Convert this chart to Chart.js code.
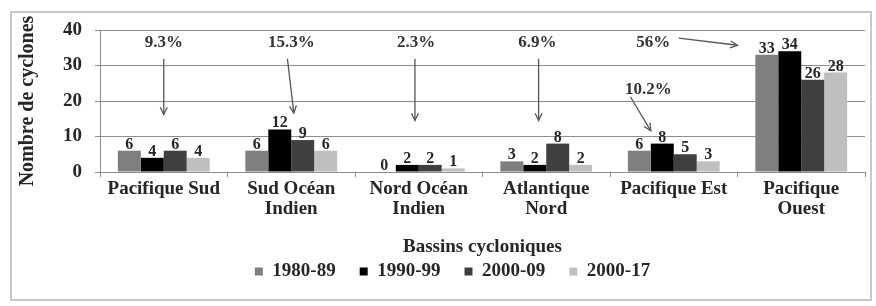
<!DOCTYPE html>
<html>
<head>
<meta charset="utf-8">
<script src="https://cdn.jsdelivr.net/npm/chart.js@4.4.1/dist/chart.umd.min.js"></script>
<style>
  html, body { margin: 0; padding: 0; background: #ffffff; }
  #wrap { position: relative; width: 876px; height: 306px; }
</style>
</head>
<body>
<div id="wrap"><canvas id="c" width="876" height="306"></canvas></div>
<script>
// ---- data ----
const categories = [
  'Pacifique Sud',
  ['Sud Océan', 'Indien'],
  ['Nord Océan', 'Indien'],
  ['Atlantique', 'Nord'],
  'Pacifique Est',
  ['Pacifique', 'Ouest']
];
const seriesNames = ['1980-89', '1990-99', '2000-09', '2000-17'];
const values1980 = [6, 6, 0, 3, 6, 33];
const values1990 = [4, 12, 2, 2, 8, 34];
const values2000 = [6, 9, 2, 8, 5, 26];
const values2017 = [4, 6, 1, 2, 3, 28];
const yTicks = [0, 10, 20, 30, 40];

// percentage annotations: text + arrow, in (category index, value) units
const annotTexts = ['9.3%', '15.3%', '2.3%', '6.9%', '10.2%', '56%'];
const annotTextAt = [[0, 36.5], [1, 36.5], [1.98, 36.5], [2.93, 36.5], [3.8, 23.3], [3.84, 36.5]];
const annotArrowFrom = [[0, 31.9], [0.97, 31.9], [1.97, 31.9], [2.94, 31.9], [3.66, 21.2], [4.04, 37.7]];
const annotArrowTo = [[0, 16.2], [1.02, 16.6], [1.97, 14.5], [2.94, 14.5], [3.82, 11.6], [4.5, 35.7]];

const FONT = "'Liberation Serif', 'Times New Roman', serif";
const TXT = '#262626';

const framePlugin = {
  id: 'frame',
  beforeDraw(chart) {
    const ctx = chart.ctx;
    ctx.save();
    ctx.fillStyle = '#ffffff';
    ctx.fillRect(0, 0, chart.width, chart.height);
    ctx.strokeStyle = '#c8c8c8';
    ctx.lineWidth = 2;
    ctx.strokeRect(11, 12, 860, 288);
    ctx.restore();
  }
};

const legendPlace = {
  id: 'legendPlace',
  beforeLayout(chart) {
    const lg = chart.legend;
    if (lg && !lg.__patched) {
      const orig = lg.fit;
      lg.fit = function () { orig.call(this); this.height = 46; };
      lg.__patched = true;
    }
  },
  afterLayout(chart) {
    const lg = chart.legend;
    if (!lg) return;
    lg.top -= 22; lg.bottom -= 22;
    lg.left += 20; lg.right += 20;
  }
};

const valueLabels = {
  id: 'valueLabels',
  afterDatasetsDraw(chart) {
    const ctx = chart.ctx;
    ctx.save();
    ctx.font = 'bold 16px ' + FONT;
    ctx.fillStyle = TXT;
    ctx.textAlign = 'center';
    ctx.textBaseline = 'alphabetic';
    chart.data.datasets.forEach((ds, i) => {
      const meta = chart.getDatasetMeta(i);
      meta.data.forEach((bar, j) => {
        ctx.fillText(String(ds.data[j]), bar.x, bar.y - 2);
      });
    });
    ctx.restore();
  }
};

const annotations = {
  id: 'annotations',
  afterDatasetsDraw(chart) {
    const ctx = chart.ctx;
    const xs = chart.scales.x, ys = chart.scales.y;
    const P = (p) => [xs.getPixelForValue(p[0]), ys.getPixelForValue(p[1])];
    ctx.save();
    ctx.font = 'bold 17px ' + FONT;
    ctx.fillStyle = '#333333';
    ctx.textAlign = 'center';
    ctx.textBaseline = 'middle';
    annotTexts.forEach((t, i) => {
      const [x, y] = P(annotTextAt[i]);
      ctx.fillText(t, x, y);
    });
    ctx.strokeStyle = '#555555';
    ctx.lineWidth = 1.3;
    annotArrowFrom.forEach((f, i) => {
      const [x1, y1] = P(f);
      const [x2, y2] = P(annotArrowTo[i]);
      ctx.beginPath();
      ctx.moveTo(x1, y1);
      ctx.lineTo(x2, y2);
      ctx.stroke();
      const a = Math.atan2(y2 - y1, x2 - x1);
      const h = 8, w = 0.45;
      ctx.beginPath();
      ctx.moveTo(x2 - h * Math.cos(a - w), y2 - h * Math.sin(a - w));
      ctx.lineTo(x2, y2);
      ctx.lineTo(x2 - h * Math.cos(a + w), y2 - h * Math.sin(a + w));
      ctx.stroke();
    });
    ctx.restore();
  }
};

new Chart(document.getElementById('c'), {
  type: 'bar',
  data: {
    labels: categories,
    datasets: [
      { label: seriesNames[0], data: values1980, backgroundColor: '#7f7f7f' },
      { label: seriesNames[1], data: values1990, backgroundColor: '#000000' },
      { label: seriesNames[2], data: values2000, backgroundColor: '#404040' },
      { label: seriesNames[3], data: values2017, backgroundColor: '#bfbfbf' }
    ]
  },
  options: {
    responsive: false,
    animation: false,
    devicePixelRatio: 1,
    datasets: { bar: { categoryPercentage: 0.72, barPercentage: 1.0, borderWidth: 0 } },
    layout: { padding: { left: 0, right: 11, top: 30, bottom: 0 } },
    plugins: {
      tooltip: { enabled: false },
      legend: {
        position: 'bottom',
        labels: {
          font: { family: FONT, size: 19, weight: 'bold' },
          color: TXT,
          boxWidth: 8,
          boxHeight: 8,
          padding: 24
        }
      }
    },
    scales: {
      x: {
        offset: true,
        grid: { display: true, drawOnChartArea: false, tickLength: 5, color: '#8c8c8c', offset: true },
        border: { display: true, color: '#8c8c8c' },
        ticks: {
          font: { family: FONT, size: 19, weight: 'bold', lineHeight: 1.05 },
          color: TXT,
          padding: 2,
          maxRotation: 0,
          autoSkip: false
        },
        title: {
          display: true,
          text: 'Bassins cycloniques',
          font: { family: FONT, size: 19, weight: 'bold' },
          color: TXT,
          padding: { top: 0, bottom: 2 }
        },
        afterFit(s) { s.height = 88; }
      },
      y: {
        min: 0,
        max: 40,
        afterBuildTicks(s) { s.ticks = yTicks.map(v => ({ value: v })); },
        grid: { color: '#8c8c8c', tickLength: 5, lineWidth: 1 },
        border: { display: true, color: '#8c8c8c' },
        ticks: {
          font: { family: FONT, size: 19, weight: 'bold' },
          color: TXT,
          padding: 13
        },
        title: {
          display: true,
          text: 'Nombre de cyclones',
          font: { family: FONT, size: 20, weight: 'bold' },
          color: TXT,
          padding: { top: 16, bottom: 0 }
        },
        afterFit(s) { s.width = 100; }
      }
    }
  },
  plugins: [framePlugin, legendPlace, valueLabels, annotations]
});
</script>
</body>
</html>
